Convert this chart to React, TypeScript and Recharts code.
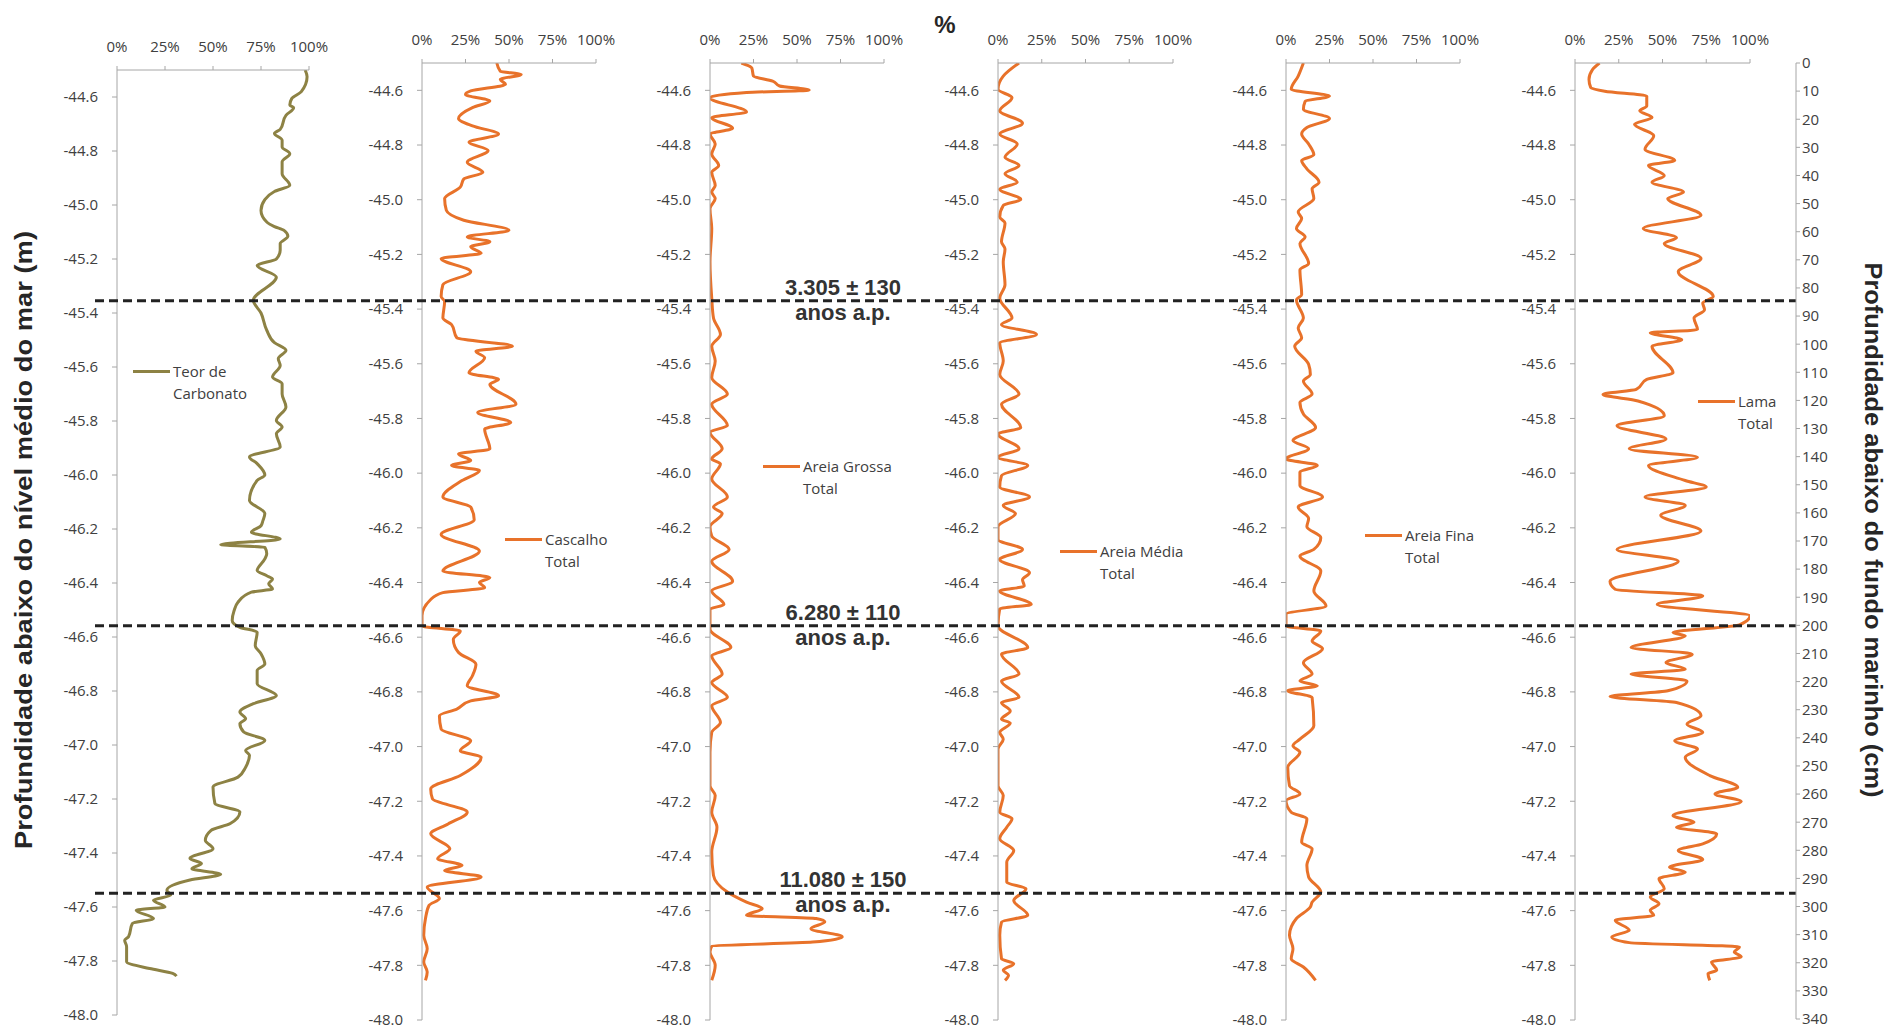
import { LineChart, Line, XAxis, YAxis, ReferenceLine, Legend } from 'recharts'

// Sediment core profiles: six side-by-side depth logs (percent vs depth),
// three dated horizons drawn as dashed lines across all of them, and a
// secondary depth scale in cm below the sea floor on the far right.

const PCT_TICKS = [0, 25, 50, 75, 100]
const DEPTH_TICKS = [
  -44.6, -44.8, -45.0, -45.2, -45.4, -45.6, -45.8, -46.0, -46.2,
  -46.4, -46.6, -46.8, -47.0, -47.2, -47.4, -47.6, -47.8, -48.0,
]
const CM_TICKS = [
  0, 10, 20, 30, 40, 50, 60, 70, 80, 90, 100, 110, 120, 130, 140, 150, 160, 170,
  180, 190, 200, 210, 220, 230, 240, 250, 260, 270, 280, 290, 300, 310, 320, 330, 340,
]

const DATE_DEPTHS = [-45.37, -46.56, -47.54]
const DATE_LABELS = ['3.305 ± 130', '6.280 ± 110', '11.080 ± 150']

// [depth (m), percent]
const TEOR_CARBONATO: [number, number][] = [
  [-44.5, 98], [-44.525, 99], [-44.58, 96], [-44.606, 91], [-44.63, 90], [-44.64, 92],
  [-44.668, 88], [-44.72, 85], [-44.735, 82], [-44.76, 86], [-44.785, 86], [-44.81, 90],
  [-44.84, 86], [-44.884, 86], [-44.927, 90], [-44.95, 82], [-44.98, 77], [-45.02, 75],
  [-45.063, 78], [-45.08, 82], [-45.094, 87], [-45.116, 89], [-45.143, 85], [-45.168, 85],
  [-45.2, 83], [-45.224, 73], [-45.267, 83], [-45.353, 71], [-45.4, 75], [-45.464, 78],
  [-45.51, 82], [-45.538, 88], [-45.569, 84], [-45.594, 85], [-45.637, 81], [-45.662, 86],
  [-45.7, 86], [-45.748, 88], [-45.798, 83], [-45.822, 86], [-45.847, 83], [-45.896, 85],
  [-45.933, 69], [-45.958, 73], [-46.0, 77], [-46.02, 73], [-46.094, 69], [-46.143, 77],
  [-46.169, 76], [-46.188, 75], [-46.212, 70], [-46.237, 85], [-46.258, 54], [-46.268, 77],
  [-46.292, 78], [-46.311, 77], [-46.354, 73], [-46.373, 78], [-46.385, 81], [-46.403, 79],
  [-46.422, 81], [-46.434, 70], [-46.471, 63], [-46.502, 61], [-46.539, 60], [-46.564, 64],
  [-46.582, 73], [-46.632, 72], [-46.662, 75], [-46.7, 77], [-46.724, 73], [-46.773, 73],
  [-46.817, 83], [-46.847, 71], [-46.878, 64], [-46.903, 67], [-46.921, 64], [-46.952, 66],
  [-46.983, 77], [-47.02, 67], [-47.038, 69], [-47.082, 67], [-47.119, 63], [-47.156, 50],
  [-47.217, 51], [-47.248, 64], [-47.291, 59], [-47.316, 49], [-47.353, 46], [-47.384, 50],
  [-47.42, 38], [-47.439, 44], [-47.458, 39], [-47.479, 54], [-47.5, 38], [-47.538, 26],
  [-47.556, 28], [-47.575, 19], [-47.6, 25], [-47.612, 10], [-47.643, 19], [-47.661, 8],
  [-47.71, 6], [-47.723, 4], [-47.747, 5], [-47.803, 5], [-47.828, 17], [-47.846, 29],
  [-47.856, 31],
]

const CASCALHO_TOTAL: [number, number][] = [
  [-44.5, 43], [-44.53, 45], [-44.542, 57], [-44.56, 45], [-44.578, 48], [-44.602, 28],
  [-44.615, 25], [-44.639, 39], [-44.663, 29], [-44.703, 21], [-44.73, 29], [-44.76, 44],
  [-44.79, 27], [-44.82, 38], [-44.863, 26], [-44.9, 35], [-44.924, 24], [-44.954, 22],
  [-44.996, 13], [-45.039, 14], [-45.075, 24], [-45.112, 50], [-45.136, 26], [-45.154, 39],
  [-45.172, 28], [-45.196, 34], [-45.215, 11], [-45.263, 28], [-45.311, 12], [-45.354, 11],
  [-45.372, 13], [-45.433, 12], [-45.457, 17], [-45.505, 20], [-45.536, 52], [-45.554, 31],
  [-45.578, 36], [-45.633, 27], [-45.657, 44], [-45.675, 39], [-45.748, 54], [-45.778, 32],
  [-45.815, 51], [-45.839, 36], [-45.912, 39], [-45.93, 21], [-45.954, 28], [-45.972, 17],
  [-45.99, 33], [-46.027, 23], [-46.087, 12], [-46.124, 28], [-46.17, 30], [-46.224, 11],
  [-46.285, 33], [-46.358, 12], [-46.382, 39], [-46.4, 33], [-46.419, 36], [-46.437, 12],
  [-46.462, 5], [-46.522, 0], [-46.559, 0], [-46.577, 22], [-46.608, 18], [-46.656, 21],
  [-46.699, 31], [-46.741, 29], [-46.778, 26], [-46.814, 44], [-46.833, 28], [-46.863, 20],
  [-46.887, 10], [-46.936, 11], [-46.979, 28], [-47.015, 22], [-47.039, 34], [-47.106, 22],
  [-47.155, 5], [-47.191, 6], [-47.24, 26], [-47.283, 15], [-47.319, 5], [-47.374, 16],
  [-47.41, 9], [-47.435, 23], [-47.453, 13], [-47.477, 34], [-47.514, 3], [-47.556, 10],
  [-47.581, 4], [-47.629, 2], [-47.69, 1], [-47.739, 3], [-47.788, 1], [-47.824, 3],
  [-47.855, 2],
]

const AREIA_GROSSA_TOTAL: [number, number][] = [
  [-44.5, 18], [-44.518, 24], [-44.548, 25], [-44.566, 36], [-44.584, 40], [-44.599, 57],
  [-44.608, 21], [-44.627, 0], [-44.679, 21], [-44.7, 1], [-44.739, 13], [-44.76, 0],
  [-44.796, 3], [-44.833, 1], [-44.875, 5], [-44.9, 1], [-44.948, 3], [-44.972, 1],
  [-44.996, 3], [-45.033, 0], [-45.105, 1], [-45.227, 0], [-45.36, 1], [-45.433, 2],
  [-45.493, 6], [-45.536, 1], [-45.59, 3], [-45.65, 1], [-45.711, 10], [-45.748, 1],
  [-45.826, 10], [-45.85, 0], [-45.911, 7], [-45.948, 1], [-45.966, 6], [-46.021, 1],
  [-46.087, 10], [-46.124, 2], [-46.148, 7], [-46.196, 0], [-46.23, 1], [-46.279, 11],
  [-46.322, 1], [-46.395, 13], [-46.431, 1], [-46.48, 8], [-46.498, 0], [-46.571, 0],
  [-46.638, 12], [-46.668, 1], [-46.735, 7], [-46.766, 1], [-46.82, 10], [-46.851, 1],
  [-46.912, 6], [-46.948, 1], [-47.021, 0], [-47.143, 0], [-47.179, 3], [-47.24, 1],
  [-47.295, 4], [-47.386, 1], [-47.471, 2], [-47.532, 10], [-47.569, 21], [-47.593, 30],
  [-47.617, 21], [-47.629, 61], [-47.641, 66], [-47.666, 58], [-47.696, 76], [-47.715, 59],
  [-47.73, 1], [-47.751, 0], [-47.8, 3], [-47.855, 1],
]

const AREIA_MEDIA_TOTAL: [number, number][] = [
  [-44.5, 12], [-44.548, 3], [-44.596, 0], [-44.627, 8], [-44.675, 1], [-44.72, 14],
  [-44.76, 1], [-44.796, 11], [-44.845, 4], [-44.875, 12], [-44.905, 4], [-44.936, 11],
  [-44.962, 1], [-44.999, 13], [-45.021, 3], [-45.063, 1], [-45.085, 4], [-45.154, 2],
  [-45.18, 4], [-45.227, 3], [-45.311, 4], [-45.36, 1], [-45.433, 8], [-45.457, 2],
  [-45.493, 22], [-45.524, 1], [-45.59, 3], [-45.639, 1], [-45.711, 12], [-45.748, 2],
  [-45.833, 13], [-45.857, 0], [-45.911, 12], [-45.942, 0], [-45.972, 17], [-46.009, 2],
  [-46.051, 1], [-46.087, 18], [-46.118, 3], [-46.148, 10], [-46.196, 0], [-46.243, 0],
  [-46.279, 14], [-46.316, 1], [-46.364, 18], [-46.39, 14], [-46.413, 15], [-46.431, 1],
  [-46.48, 19], [-46.496, 1], [-46.559, 0], [-46.638, 17], [-46.662, 2], [-46.735, 12],
  [-46.76, 2], [-46.82, 12], [-46.839, 2], [-46.87, 7], [-46.9, 2], [-46.914, 7],
  [-46.948, 1], [-46.973, 3], [-47.009, 0], [-47.143, 0], [-47.179, 3], [-47.24, 1],
  [-47.264, 8], [-47.295, 5], [-47.337, 1], [-47.38, 9], [-47.423, 5], [-47.496, 5],
  [-47.52, 16], [-47.563, 9], [-47.617, 17], [-47.642, 2], [-47.69, 1], [-47.776, 2],
  [-47.794, 9], [-47.818, 3], [-47.836, 6], [-47.855, 4],
]

const AREIA_FINA_TOTAL: [number, number][] = [
  [-44.5, 10], [-44.548, 7], [-44.596, 3], [-44.621, 25], [-44.64, 11], [-44.669, 10],
  [-44.703, 25], [-44.736, 12], [-44.76, 9], [-44.796, 13], [-44.836, 16], [-44.857, 9],
  [-44.887, 12], [-44.936, 19], [-44.96, 15], [-44.996, 16], [-45.045, 7], [-45.069, 9],
  [-45.105, 6], [-45.136, 11], [-45.16, 8], [-45.233, 13], [-45.257, 8], [-45.348, 9],
  [-45.366, 6], [-45.433, 10], [-45.469, 7], [-45.505, 9], [-45.536, 5], [-45.602, 13],
  [-45.639, 14], [-45.663, 10], [-45.711, 15], [-45.742, 8], [-45.784, 10], [-45.833, 17],
  [-45.881, 4], [-45.911, 13], [-45.948, 0], [-45.972, 18], [-45.996, 8], [-46.045, 8],
  [-46.087, 21], [-46.124, 7], [-46.166, 13], [-46.196, 12], [-46.236, 20], [-46.279, 16],
  [-46.303, 8], [-46.358, 20], [-46.431, 16], [-46.486, 23], [-46.516, 0], [-46.559, 0],
  [-46.577, 20], [-46.614, 15], [-46.642, 21], [-46.693, 10], [-46.735, 15], [-46.76, 8],
  [-46.778, 18], [-46.796, 1], [-46.82, 15], [-46.924, 16], [-46.973, 8], [-46.997, 4],
  [-47.021, 8], [-47.076, 1], [-47.143, 2], [-47.173, 8], [-47.198, 0], [-47.24, 3],
  [-47.264, 12], [-47.35, 9], [-47.374, 15], [-47.435, 12], [-47.477, 13], [-47.532, 20],
  [-47.569, 15], [-47.587, 14], [-47.629, 6], [-47.69, 2], [-47.739, 4], [-47.776, 3],
  [-47.806, 10], [-47.855, 17],
]

const LAMA_TOTAL: [number, number][] = [
  [-44.5, 14], [-44.524, 10], [-44.56, 8], [-44.59, 9], [-44.603, 17], [-44.621, 41],
  [-44.657, 41], [-44.675, 37], [-44.699, 44], [-44.724, 34], [-44.766, 45], [-44.815, 40],
  [-44.857, 57], [-44.875, 42], [-44.912, 51], [-44.936, 44], [-44.972, 62], [-44.996, 53],
  [-45.057, 72], [-45.105, 39], [-45.139, 58], [-45.16, 51], [-45.215, 72], [-45.263, 59],
  [-45.354, 79], [-45.378, 73], [-45.402, 74], [-45.433, 68], [-45.475, 70], [-45.487, 43],
  [-45.512, 61], [-45.536, 44], [-45.633, 56], [-45.657, 41], [-45.694, 35], [-45.712, 16],
  [-45.736, 36], [-45.79, 51], [-45.827, 24], [-45.875, 52], [-45.911, 31], [-45.942, 70],
  [-45.972, 42], [-46.027, 63], [-46.051, 75], [-46.087, 40], [-46.118, 63], [-46.154, 49],
  [-46.212, 72], [-46.279, 24], [-46.322, 59], [-46.395, 20], [-46.425, 23], [-46.449, 73],
  [-46.48, 47], [-46.522, 100], [-46.555, 94], [-46.583, 56], [-46.595, 63], [-46.638, 32],
  [-46.662, 67], [-46.693, 52], [-46.717, 63], [-46.735, 32], [-46.76, 64], [-46.796, 53],
  [-46.817, 20], [-46.839, 58], [-46.887, 72], [-46.918, 64], [-46.948, 73], [-46.979, 57],
  [-47.009, 70], [-47.039, 63], [-47.106, 77], [-47.149, 93], [-47.173, 80], [-47.201, 95],
  [-47.252, 56], [-47.277, 68], [-47.295, 58], [-47.319, 81], [-47.356, 73], [-47.38, 59],
  [-47.413, 73], [-47.441, 54], [-47.459, 63], [-47.483, 48], [-47.52, 51], [-47.55, 43],
  [-47.575, 48], [-47.599, 43], [-47.617, 45], [-47.635, 23], [-47.672, 31], [-47.696, 21],
  [-47.717, 31], [-47.733, 94], [-47.751, 91], [-47.769, 95], [-47.788, 78], [-47.818, 81],
  [-47.831, 76], [-47.855, 77],
]

const OLIVE = '#8d8244'
const ORANGE = '#e8722a'
const AXIS_GREY = '#a6a6a6'
const TEXT_GREY = '#404040'

const Y_AXIS_W = 70
const X_AXIS_H = 45
const PAD_RIGHT = 25
const PAD_BOTTOM = 10
const DATE_LABEL_X = 843

type Panel = {
  title: [string, string]
  color: string
  points: [number, number][]
  x0: number // page x of 0 %
  x1: number // page x of 100 %
  top: number
  bottom: number
  legendX: number
  legendY: number
}

const PANELS: Panel[] = [
  { title: ['Teor de', 'Carbonato'], color: OLIVE, points: TEOR_CARBONATO, x0: 117, x1: 309, top: 70, bottom: 1015, legendX: 133, legendY: 371 },
  { title: ['Cascalho', 'Total'], color: ORANGE, points: CASCALHO_TOTAL, x0: 422, x1: 596, top: 63, bottom: 1020, legendX: 505, legendY: 539 },
  { title: ['Areia Grossa', 'Total'], color: ORANGE, points: AREIA_GROSSA_TOTAL, x0: 710, x1: 884, top: 63, bottom: 1020, legendX: 763, legendY: 466 },
  { title: ['Areia Média', 'Total'], color: ORANGE, points: AREIA_MEDIA_TOTAL, x0: 998, x1: 1173, top: 63, bottom: 1020, legendX: 1060, legendY: 551 },
  { title: ['Areia Fina', 'Total'], color: ORANGE, points: AREIA_FINA_TOTAL, x0: 1286, x1: 1460, top: 63, bottom: 1020, legendX: 1365, legendY: 535 },
  { title: ['Lama', 'Total'], color: ORANGE, points: LAMA_TOTAL, x0: 1575, x1: 1750, top: 63, bottom: 1020, legendX: 1698, legendY: 401 },
]

const tickStyle = { fontSize: 15, fill: TEXT_GREY, fontFamily: '"Open Sans", sans-serif' }

function PanelLegend({ title, color }: { title: [string, string]; color: string }) {
  return (
    <div style={{ display: 'flex', alignItems: 'flex-start', fontSize: 15, lineHeight: '22px', color: TEXT_GREY, fontFamily: '"Open Sans", sans-serif', whiteSpace: 'nowrap' }}>
      <span style={{ display: 'inline-block', width: 37, height: 3, background: color, marginTop: 9.5, marginRight: 3 }} />
      <span>
        {title[0]}
        <br />
        {title[1]}
      </span>
    </div>
  )
}

function Profile({ p }: { p: Panel }) {
  const data = p.points.map(([depth, pct]) => ({ depth, pct }))
  const left = p.x0 - Y_AXIS_W
  const top = p.top - X_AXIS_H
  const width = Y_AXIS_W + (p.x1 - p.x0) + PAD_RIGHT
  const height = X_AXIS_H + (p.bottom - p.top) + PAD_BOTTOM

  return (
    <div style={{ position: 'absolute', left, top }}>
      <LineChart
        width={width}
        height={height}
        data={data}
        layout="vertical"
        margin={{ top: 0, right: PAD_RIGHT, bottom: PAD_BOTTOM, left: 0 }}
      >
        <XAxis
          type="number"
          orientation="top"
          domain={[0, 100]}
          allowDataOverflow
          ticks={PCT_TICKS}
          interval={0}
          height={X_AXIS_H}
          tickFormatter={(v) => `${v}%`}
          stroke={AXIS_GREY}
          tickSize={4}
          tickMargin={14}
          tick={tickStyle}
        />
        <YAxis
          type="number"
          dataKey="depth"
          domain={[-48, -44.5]}
          reversed
          allowDataOverflow
          ticks={DEPTH_TICKS}
          interval={0}
          width={Y_AXIS_W}
          tickFormatter={(v) => Number(v).toFixed(1)}
          stroke={AXIS_GREY}
          tickSize={5}
          tickMargin={14}
          tick={tickStyle}
        />
        <Line
          dataKey="pct"
          type="monotone"
          stroke={p.color}
          strokeWidth={3}
          dot={false}
          activeDot={false}
          isAnimationActive={false}
        />
        <Legend
          layout="vertical"
          align="center"
          verticalAlign="middle"
          content={() => <PanelLegend title={p.title} color={p.color} />}
          wrapperStyle={{ left: p.legendX - left, top: p.legendY - 11 - top, width: 'max-content' }}
        />
      </LineChart>
    </div>
  )
}

function DateLabel({ viewBox, text }: { viewBox?: { y: number }; text: string }) {
  const y = viewBox ? viewBox.y : 0
  return (
    <g fontFamily='"Liberation Sans", Arial, sans-serif' fontWeight={700} fontSize={22} fill="#333" textAnchor="middle">
      <text x={DATE_LABEL_X} y={y - 6}>{text}</text>
      <text x={DATE_LABEL_X} y={y + 19}>anos a.p.</text>
    </g>
  )
}

// Full-width layer: dated horizons and the cm scale below the sea floor.
function DateLayer() {
  const data = DATE_DEPTHS.map((depth, i) => ({ name: DATE_LABELS[i], depth }))
  return (
    <div style={{ position: 'absolute', left: 0, top: 0, pointerEvents: 'none' }}>
      <LineChart width={1888} height={1027} data={data} margin={{ top: 63, right: 32, bottom: 8, left: 95 }}>
        <XAxis type="number" domain={[0, 1]} allowDataOverflow hide />
        <YAxis yAxisId="m" type="number" dataKey="depth" domain={[-48, -44.5]} allowDataOverflow hide />
        <YAxis
          yAxisId="cm"
          orientation="right"
          type="number"
          domain={[0, 340]}
          allowDataOverflow
          reversed
          ticks={CM_TICKS}
          interval={0}
          width={60}
          stroke={AXIS_GREY}
          tickSize={4}
          tickMargin={2}
          tick={tickStyle}
        />
        {DATE_DEPTHS.map((d, i) => (
          <ReferenceLine
            key={i}
            yAxisId="m"
            y={d}
            ifOverflow="visible"
            stroke="#222"
            strokeWidth={3}
            strokeDasharray="9 5"
            label={<DateLabel text={DATE_LABELS[i]} />}
          />
        ))}
      </LineChart>
    </div>
  )
}

export default function App() {
  return (
    <div style={{ position: 'absolute', left: 0, top: 0, width: 1888, height: 1027, background: '#fff', fontFamily: '"Open Sans", sans-serif' }}>
      <svg width={1888} height={1027} style={{ position: 'absolute', left: 0, top: 0 }}>
        <g fontFamily='"Liberation Sans", Arial, sans-serif' fontWeight={700} fill="#262626">
          <text x={945} y={33} fontSize={24} textAnchor="middle">%</text>
          <text
            transform="translate(23 540) rotate(-90)"
            fontSize={24}
            textAnchor="middle"
            dominantBaseline="central"
            textLength={618}
            lengthAdjust="spacingAndGlyphs"
          >
            Profundidade abaixo do nível médio do mar (m)
          </text>
          <text
            transform="translate(1873 530) rotate(90)"
            fontSize={24}
            textAnchor="middle"
            dominantBaseline="central"
            textLength={535}
            lengthAdjust="spacingAndGlyphs"
          >
            Profundidade abaixo do fundo marinho (cm)
          </text>
        </g>
      </svg>
      {PANELS.map((p, i) => (
        <Profile key={i} p={p} />
      ))}
      <DateLayer />
    </div>
  )
}
